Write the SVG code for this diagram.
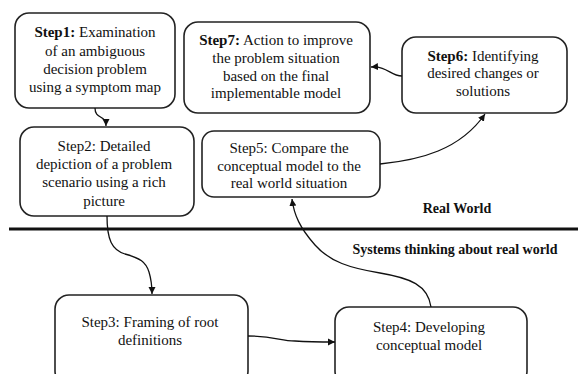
<svg xmlns="http://www.w3.org/2000/svg" width="578" height="374" viewBox="0 0 578 374">
<style>
.box{fill:#fff;stroke:#222;stroke-width:1.6}
text{font-family:"Liberation Serif","Times New Roman",serif;font-size:15px;fill:#111;text-anchor:middle}
.b{font-weight:bold}
.lbl{font-weight:bold;font-size:14px}
.con{fill:none;stroke:#111;stroke-width:1.3}
</style>
<defs>
<marker id="ah" markerWidth="8" markerHeight="8" refX="7" refY="4" orient="auto" markerUnits="userSpaceOnUse">
<path d="M0,0.5 L7,4 L0,7.5 Z" fill="#111"/>
</marker>
</defs>
<rect x="0" y="0" width="578" height="374" fill="#fff"/>
<line x1="9" y1="229" x2="578" y2="229" stroke="#111" stroke-width="3"/>
<text class="lbl" x="457" y="213">Real World</text>
<text class="lbl" x="455" y="254">Systems thinking about real world</text>
<g id="step1">
<rect class="box" x="15" y="13" width="160" height="95" rx="14"/>
<text x="95" y="37"><tspan class="b">Step1:</tspan> Examination</text>
<text x="95" y="56">of an ambiguous</text>
<text x="95" y="74">decision problem</text>
<text x="95" y="92">using a symptom map</text>
</g>
<g id="step2">
<rect class="box" x="20" y="127" width="174" height="89" rx="14"/>
<text x="104" y="151">Step2: Detailed</text>
<text x="104" y="169">depiction of a problem</text>
<text x="104" y="187">scenario using a rich</text>
<text x="104" y="206">picture</text>
</g>
<g id="step7">
<rect class="box" x="184" y="22" width="186" height="91" rx="14"/>
<text x="276" y="45"><tspan class="b">Step7:</tspan> Action to improve</text>
<text x="276" y="63">the problem situation</text>
<text x="276" y="81">based on the final</text>
<text x="276" y="98">implementable model</text>
</g>
<g id="step6">
<rect class="box" x="402" y="37" width="165" height="76" rx="14"/>
<text x="483" y="61"><tspan class="b">Step6:</tspan> Identifying</text>
<text x="483" y="78">desired changes or</text>
<text x="483" y="96">solutions</text>
</g>
<g id="step5">
<rect class="box" x="202" y="131" width="178" height="66" rx="12"/>
<text x="289" y="153">Step5: Compare the</text>
<text x="289" y="171">conceptual model to the</text>
<text x="289" y="188">real world situation</text>
</g>
<g id="step3">
<rect class="box" x="55" y="295" width="193" height="90" rx="14"/>
<text x="150" y="327">Step3: Framing of root</text>
<text x="150" y="345">definitions</text>
</g>
<g id="step4">
<rect class="box" x="335" y="307" width="192" height="78" rx="14"/>
<text x="429" y="332">Step4: Developing</text>
<text x="429" y="350">conceptual model</text>
</g>
<g id="connectors">
<path class="con" d="M95,108 C95,120 106,114 106,126" marker-end="url(#ah)"/>
<path class="con" d="M107,216 C107,240 112,250 125,254 C140,258 146,262 149,272 C152,282 152,286 152,294" marker-end="url(#ah)"/>
<path class="con" d="M248,336 C275,336 280,341 295,341 C310,342 320,342 335,342" marker-end="url(#ah)"/>
<path class="con" d="M431,307 C428,285 410,278 380,273 C350,268 330,262 315,245 C300,228 294,215 292,199" marker-end="url(#ah)"/>
<path class="con" d="M380,164 C420,160 460,150 485,114" marker-end="url(#ah)"/>
<path class="con" d="M402,76 C390,76 388,66 371,67" marker-end="url(#ah)"/>
</g>
</svg>
